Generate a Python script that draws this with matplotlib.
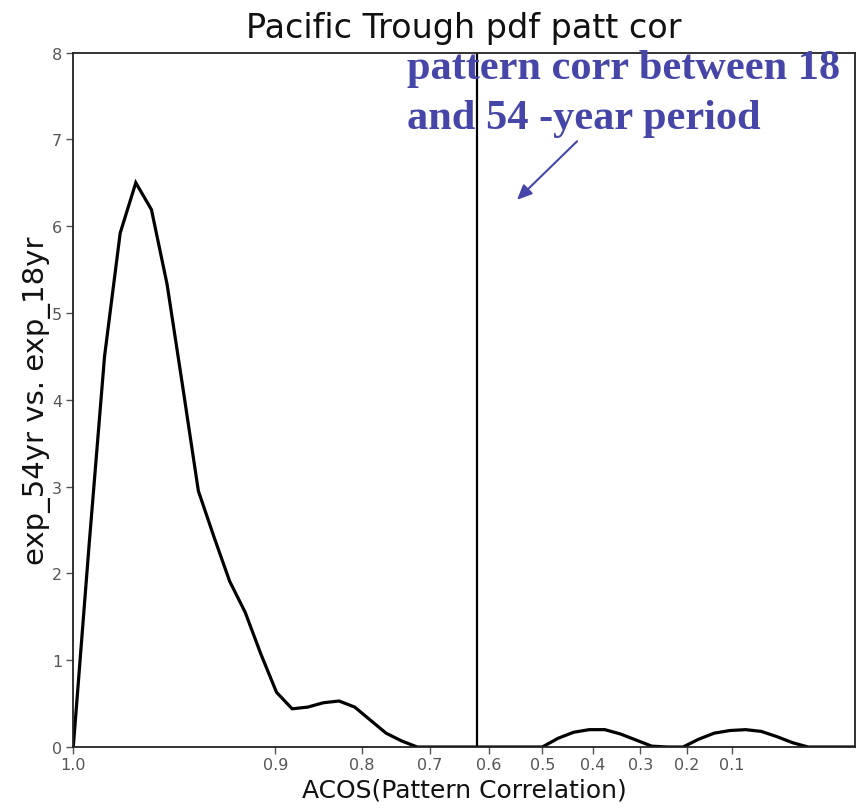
import numpy as np
import matplotlib
matplotlib.use('Agg')
import matplotlib.pyplot as plt

# pdf of pattern correlation, x in degrees of ACOS(pattern corr)
angle_deg = list(range(0, 101, 2))
pdf_vals = [0.0, 2.3, 4.5, 5.92, 6.5, 6.19, 5.33, 4.15, 2.95, 2.42,
            1.91, 1.55, 1.07, 0.63, 0.44, 0.46, 0.51, 0.53, 0.46, 0.31,
            0.16, 0.07, 0.0, 0.0, 0.0, 0.0, 0.0, 0.0, 0.0, 0.0,
            0.0, 0.10, 0.17, 0.20, 0.20, 0.15, 0.08, 0.01, 0.0, 0.0,
            0.09, 0.16, 0.19, 0.20, 0.18, 0.12, 0.05, 0.0, 0.0, 0.0, 0.0]

corr_ticks = [1.0, 0.9, 0.8, 0.7, 0.6, 0.5, 0.4, 0.3, 0.2, 0.1]
corr_labels = ['1.0', '0.9', '0.8', '0.7', '0.6', '0.5', '0.4', '0.3', '0.2', '0.1']
y_ticks = [0, 1, 2, 3, 4, 5, 6, 7, 8]

# observed pattern corr between 18 and 54 year period
obs_corr_deg = 51.7

blue = '#4646a8'

fig = plt.figure(figsize=(8.57, 8.12), dpi=100)
ax = fig.add_axes([0.0855, 0.0788, 0.9122, 0.8553])

ax.plot(angle_deg, pdf_vals, color='black', lw=2.3, solid_joinstyle='miter')
ax.axvline(obs_corr_deg, color='black', lw=1.6)

ax.set_xlim(0, 100)
ax.set_ylim(0, 8)
ax.set_xticks(np.degrees(np.arccos(corr_ticks)))
ax.set_xticklabels(corr_labels)
ax.set_yticks(y_ticks)
ax.tick_params(axis='both', direction='out', length=5, width=1, color='#555555',
               labelcolor='#555555', labelsize=11.5)
ax.tick_params(axis='x', pad=2)
ax.tick_params(axis='y', pad=3)
for s in ax.spines.values():
    s.set_linewidth(1.3)
    s.set_color('#222222')

ax.set_title('Pacific Trough pdf patt cor', fontsize=24, pad=11, color='#111111')
ax.set_xlabel('ACOS(Pattern Correlation)', fontsize=18, labelpad=4, color='#111111')
ax.set_ylabel('exp_54yr vs. exp_18yr', fontsize=21, labelpad=1, color='#111111')

# blue annotation
ax.text(42.65, 7.71, 'pattern corr between 18', family='Liberation Serif',
        fontweight='bold', fontsize=30.5, color=blue, va='baseline', ha='left')
ax.text(42.65, 7.13, 'and 54 -year period', family='Liberation Serif',
        fontweight='bold', fontsize=30.5, color=blue, va='baseline', ha='left')
ax.annotate('', xy=(56.5, 6.28), xytext=(64.7, 7.0),
            arrowprops=dict(arrowstyle='-|>,head_length=0.9,head_width=0.4',
                            color=blue, lw=1.5))

fig.savefig('out.png', dpi=100)
